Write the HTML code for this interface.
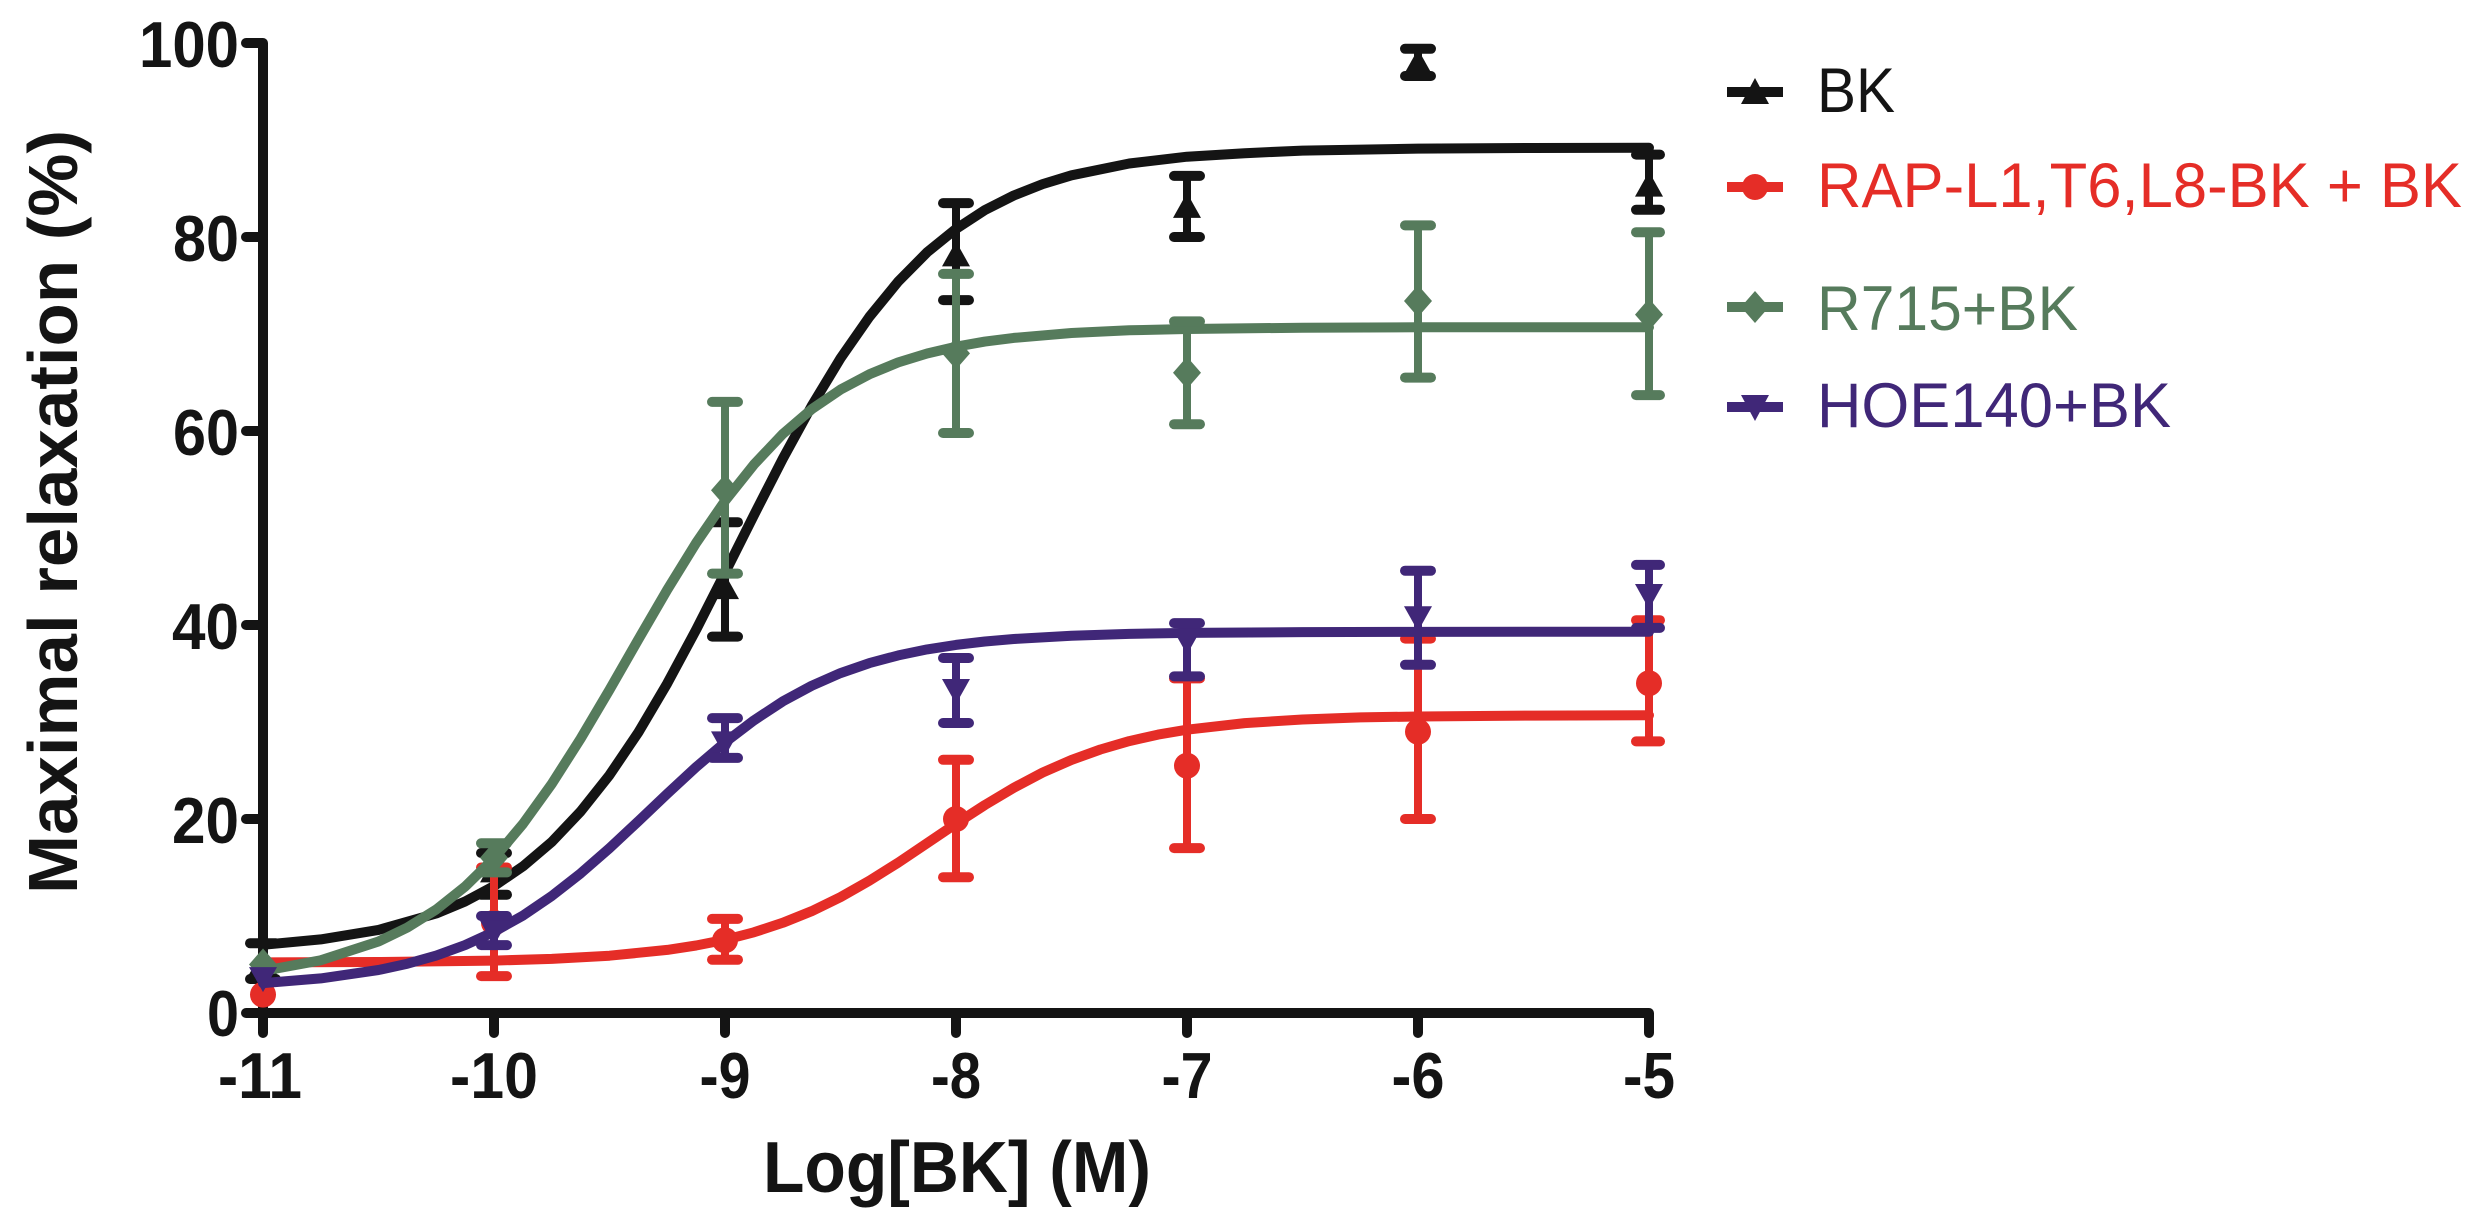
<!DOCTYPE html>
<html>
<head>
<meta charset="utf-8">
<style>
  html, body { margin: 0; padding: 0; background: #ffffff; }
  svg { display: block; }
  text { font-family: "Liberation Sans", Arial, sans-serif; }
</style>
</head>
<body>
<svg width="2482" height="1228" viewBox="0 0 2482 1228" xmlns="http://www.w3.org/2000/svg">
  <rect width="2482" height="1228" fill="#ffffff"/>

  <!-- Axes -->
  <g stroke="#141414" stroke-width="10" fill="none" stroke-linecap="round" stroke-linejoin="round">
    <path d="M246,43 L263,43 L263,1013"/>
    <path d="M246,1013 L1649,1013 L1649,1033"/>
    <path d="M246,237 L263,237 M246,431 L263,431 M246,625 L263,625 M246,819 L263,819"/>
    <path d="M263,1013 L263,1033 M494,1013 L494,1033 M725,1013 L725,1033 M956,1013 L956,1033 M1187,1013 L1187,1033 M1418,1013 L1418,1033"/>
  </g>

  <!-- Y tick labels -->
  <g font-weight="bold" font-size="65" fill="#141414" text-anchor="end">
    <text x="239" y="67" textLength="100" lengthAdjust="spacingAndGlyphs">100</text>
    <text x="239" y="261" textLength="66" lengthAdjust="spacingAndGlyphs">80</text>
    <text x="239" y="455" textLength="66" lengthAdjust="spacingAndGlyphs">60</text>
    <text x="239" y="649" textLength="67" lengthAdjust="spacingAndGlyphs">40</text>
    <text x="239" y="843" textLength="67" lengthAdjust="spacingAndGlyphs">20</text>
    <text x="239" y="1036" textLength="32" lengthAdjust="spacingAndGlyphs">0</text>
  </g>

  <!-- X tick labels -->
  <g font-weight="bold" font-size="65" fill="#141414" text-anchor="middle">
    <text x="260" y="1098" textLength="84" lengthAdjust="spacingAndGlyphs">-11</text>
    <text x="494" y="1098" textLength="88" lengthAdjust="spacingAndGlyphs">-10</text>
    <text x="725" y="1098" textLength="51" lengthAdjust="spacingAndGlyphs">-9</text>
    <text x="956" y="1098" textLength="50" lengthAdjust="spacingAndGlyphs">-8</text>
    <text x="1187" y="1098" textLength="51" lengthAdjust="spacingAndGlyphs">-7</text>
    <text x="1418" y="1098" textLength="53" lengthAdjust="spacingAndGlyphs">-6</text>
    <text x="1649" y="1098" textLength="52" lengthAdjust="spacingAndGlyphs">-5</text>
  </g>

  <!-- Axis titles -->
  <text x="957" y="1192" font-weight="bold" font-size="72" fill="#141414" text-anchor="middle" textLength="388" lengthAdjust="spacingAndGlyphs">Log[BK] (M)</text>
  <text transform="translate(77,512) rotate(-90)" x="0" y="0" font-weight="bold" font-size="70" fill="#141414" text-anchor="middle" textLength="764" lengthAdjust="spacingAndGlyphs">Maximal relaxation (%)</text>

  <!-- ===== BK (black) ===== -->
  <g stroke="#141414" fill="#141414">
    <path fill="none" stroke-width="10" stroke-linejoin="round" stroke-linecap="round"
      d="M263,944.8 L320.75,939.4 L378.5,929.9 L436.25,913.5 L465.1,901.5 L494,886.1 L522.9,866.4 L551.75,841.9 L580.6,811.5 L609.5,775.1 L638.4,732.3 L667.25,683.4 L696.1,629.8 L725,572.9 L753.9,515.2 L782.75,458.8 L811.6,406.1 L840.5,358.3 L869.4,316.8 L898.25,281.5 L927.1,252.3 L956,228.9 L984.9,210.1 L1013.75,195.5 L1042.6,184.1 L1071.5,175.3 L1129.25,163.5 L1187,156.7 L1244.75,153.2 L1302.5,150.6 L1418,148.6 L1533.5,148 L1649,147.8"/>
    <g stroke-width="8" stroke-linecap="round">
      <path d="M263,979 L263,943.2 M494,894.7 L494,853 M725,636.6 L725,522.2 M956,300.1 L956,203.1 M1187,237 L1187,175.9 M1418,76 L1418,48.8 M1649,209.8 L1649,154.6"/>
    </g>
    <g stroke-width="10" stroke-linecap="round">
      <path d="M250,979 L276,979 M250,943.2 L276,943.2 M481,894.7 L507,894.7 M481,853 L507,853 M712,636.6 L738,636.6 M712,522.2 L738,522.2 M943,300.1 L969,300.1 M943,203.1 L969,203.1 M1174,237 L1200,237 M1174,175.9 L1200,175.9 M1405,76 L1431,76 M1405,48.8 L1431,48.8 M1636,209.8 L1660,209.8 M1636,154.6 L1660,154.6"/>
    </g>
    <g stroke="none">
      <polygon points="263,949.5 249,974.5 277,974.5"/>
      <polygon points="494,857.4 480,882.4 508,882.4"/>
      <polygon points="725,574.1 711,599.1 739,599.1"/>
      <polygon points="956,241.4 942,266.4 970,266.4"/>
      <polygon points="1187,192.9 1173,217.9 1201,217.9"/>
      <polygon points="1418,49.3 1404,74.3 1432,74.3"/>
      <polygon points="1649,171.6 1635,196.6 1663,196.6"/>
    </g>
  </g>

  <!-- ===== RAP (red) ===== -->
  <g stroke="#e52d27" fill="#e52d27">
    <path fill="none" stroke-width="10" stroke-linejoin="round" stroke-linecap="round"
      d="M263,962.4 L378.5,962 L494,960.6 L551.75,958.9 L609.5,955.7 L667.25,949.9 L696.1,945.5 L725,939.8 L753.9,932.3 L782.75,922.8 L811.6,911.2 L840.5,897.1 L869.4,880.7 L898.25,862.6 L927.1,843.2 L956,823.7 L984.9,805 L1013.75,787.8 L1042.6,772.6 L1071.5,759.9 L1100.4,749.5 L1129.25,741.1 L1158.1,734.6 L1187,729.7 L1244.75,723.1 L1302.5,719.5 L1360.25,717.4 L1418,716.5 L1533.5,715.6 L1649,715.3"/>
    <g stroke-width="8" stroke-linecap="round">
      <path d="M494,976.1 L494,867.5 M725,959.7 L725,918.9 M956,877.2 L956,759.8 M1187,848.1 L1187,678.4 M1418,819 L1418,638.6 M1649,741.4 L1649,620.2"/>
    </g>
    <g stroke-width="10" stroke-linecap="round">
      <path d="M481,976.1 L507,976.1 M481,867.5 L507,867.5 M712,959.7 L738,959.7 M712,918.9 L738,918.9 M943,877.2 L969,877.2 M943,759.8 L969,759.8 M1174,848.1 L1200,848.1 M1174,678.4 L1200,678.4 M1405,819 L1431,819 M1405,638.6 L1431,638.6 M1636,741.4 L1660,741.4 M1636,620.2 L1660,620.2"/>
    </g>
    <g stroke="none">
      <circle cx="263" cy="994.6" r="13"/>
      <circle cx="494" cy="922.8" r="13"/>
      <circle cx="725" cy="940.3" r="13"/>
      <circle cx="956" cy="819" r="13"/>
      <circle cx="1187" cy="765.7" r="13"/>
      <circle cx="1418" cy="731.7" r="13"/>
      <circle cx="1649" cy="683.2" r="13"/>
    </g>
  </g>

  <!-- ===== R715 (green) ===== -->
  <g stroke="#567b5c" fill="#567b5c">
    <path fill="none" stroke-width="10" stroke-linejoin="round" stroke-linecap="round"
      d="M263,970.9 L320.75,960.3 L378.5,941.5 L407.4,927.5 L436.25,909.5 L465.1,886.6 L494,858.3 L522.9,824 L551.75,783.9 L580.6,738.7 L609.5,689.8 L638.4,639.4 L667.25,589.7 L696.1,543 L725,500.9 L753.9,464.6 L782.75,434 L811.6,409.3 L840.5,389.6 L869.4,374.3 L898.25,362.4 L927.1,353.5 L956,346.7 L984.9,341.6 L1013.75,337.9 L1071.5,333 L1129.25,330.3 L1187,329 L1302.5,327.7 L1418,327.3 L1533.5,327.2 L1649,327.2"/>
    <g stroke-width="8" stroke-linecap="round">
      <path d="M494,872.4 L494,843.3 M725,573.6 L725,401.9 M956,433 L956,273.9 M1187,424.2 L1187,321.4 M1418,377.6 L1418,225.4 M1649,395.1 L1649,232.2"/>
    </g>
    <g stroke-width="10" stroke-linecap="round">
      <path d="M481,872.4 L507,872.4 M481,843.3 L507,843.3 M712,573.6 L738,573.6 M712,401.9 L738,401.9 M943,433 L969,433 M943,273.9 L969,273.9 M1174,424.2 L1200,424.2 M1174,321.4 L1200,321.4 M1405,377.6 L1431,377.6 M1405,225.4 L1431,225.4 M1636,395.1 L1660,395.1 M1636,232.2 L1660,232.2"/>
    </g>
    <g stroke="none">
      <polygon points="263,948.5 277,964.5 263,980.5 249,964.5"/>
      <polygon points="494,841.8 508,857.8 494,873.8 480,857.8"/>
      <polygon points="725,474.2 739,490.2 725,506.2 711,490.2"/>
      <polygon points="956,337.4 970,353.4 956,369.4 942,353.4"/>
      <polygon points="1187,356.8 1201,372.8 1187,388.8 1173,372.8"/>
      <polygon points="1418,285 1432,301 1418,317 1404,301"/>
      <polygon points="1649,298.6 1663,314.6 1649,330.6 1635,314.6"/>
    </g>
  </g>

  <!-- ===== HOE140 (purple) ===== -->
  <g stroke="#402778" fill="#402778">
    <path fill="none" stroke-width="10" stroke-linejoin="round" stroke-linecap="round"
      d="M263,983.1 L320.75,978.4 L378.5,970 L407.4,963.7 L436.25,955.6 L465.1,945.1 L494,931.8 L522.9,915.6 L551.75,896 L580.6,873.4 L609.5,848.2 L638.4,821.2 L667.25,793.8 L696.1,767.1 L725,742.4 L753.9,720.4 L782.75,701.4 L811.6,685.8 L840.5,673.1 L869.4,663.1 L898.25,655.4 L927.1,649.4 L956,644.9 L984.9,641.5 L1013.75,639 L1071.5,635.7 L1129.25,633.9 L1187,632.9 L1302.5,632.1 L1418,631.9 L1533.5,631.8 L1649,631.8"/>
    <g stroke-width="8" stroke-linecap="round">
      <path d="M494,945.1 L494,916 M725,757.9 L725,718.1 M956,723 L956,658 M1187,676.4 L1187,623.1 M1418,664.8 L1418,570.7 M1649,627.9 L1649,564.9"/>
    </g>
    <g stroke-width="10" stroke-linecap="round">
      <path d="M481,945.1 L507,945.1 M481,916 L507,916 M712,757.9 L738,757.9 M712,718.1 L738,718.1 M943,723 L969,723 M943,658 L969,658 M1174,676.4 L1200,676.4 M1174,623.1 L1200,623.1 M1405,664.8 L1431,664.8 M1405,570.7 L1431,570.7 M1636,627.9 L1660,627.9 M1636,564.9 L1660,564.9"/>
    </g>
    <g stroke="none">
      <polygon points="263,992.1 249,967.1 277,967.1"/>
      <polygon points="494,945.6 480,920.6 508,920.6"/>
      <polygon points="725,756.4 711,731.4 739,731.4"/>
      <polygon points="956,704 942,679 970,679"/>
      <polygon points="1187,654.5 1173,629.5 1201,629.5"/>
      <polygon points="1418,631.3 1404,606.3 1432,606.3"/>
      <polygon points="1649,609 1635,584 1663,584"/>
    </g>
  </g>

  <!-- ===== Legend ===== -->
  <g stroke-width="10" stroke-linecap="butt">
    <line x1="1727" y1="92" x2="1783" y2="92" stroke="#141414"/>
    <line x1="1727" y1="187" x2="1783" y2="187" stroke="#e52d27"/>
    <line x1="1727" y1="307" x2="1783" y2="307" stroke="#567b5c"/>
    <line x1="1727" y1="407" x2="1783" y2="407" stroke="#402778"/>
  </g>
  <polygon points="1755,78 1741,104 1769,104" fill="#141414"/>
  <circle cx="1755" cy="187" r="13" fill="#e52d27"/>
  <polygon points="1755,291 1769,307 1755,323 1741,307" fill="#567b5c"/>
  <polygon points="1755,421 1741,395 1769,395" fill="#402778"/>

  <g font-size="63">
    <text x="1817" y="112" fill="#141414" textLength="78" lengthAdjust="spacingAndGlyphs">BK</text>
    <text x="1817" y="207" fill="#e52d27" textLength="645" lengthAdjust="spacingAndGlyphs">RAP-L1,T6,L8-BK + BK</text>
    <text x="1817" y="330" fill="#567b5c" textLength="261" lengthAdjust="spacingAndGlyphs">R715+BK</text>
    <text x="1817" y="427" fill="#402778" textLength="354" lengthAdjust="spacingAndGlyphs">HOE140+BK</text>
  </g>
</svg>
</body>
</html>
